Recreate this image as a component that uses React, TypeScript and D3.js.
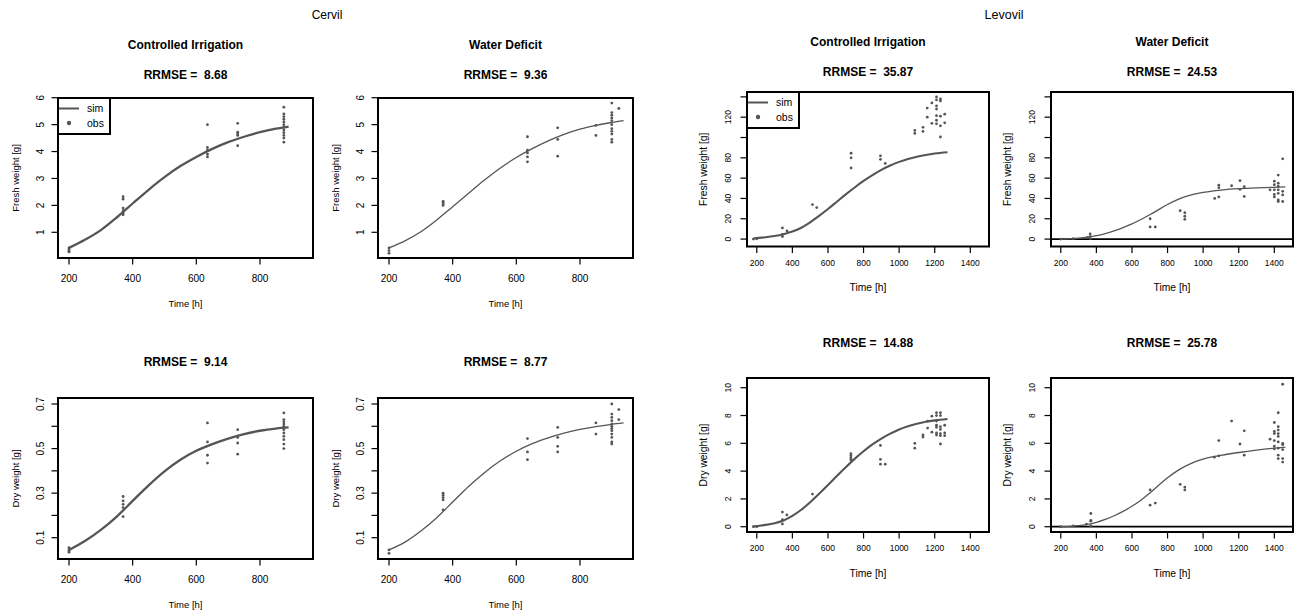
import React from 'react';
import * as d3 from 'd3';

type Pt = [number, number];

// ---- Cervil: fresh weight ----
const cervilCIFreshObs: Pt[] = [
    [200, 0.42], [200, 0.35], [200, 0.3], [200, 0.27],
    [370, 2.32], [370, 2.23], [370, 1.9], [370, 1.8], [370, 1.72], [370, 1.65],
    [635, 5.0], [635, 4.15], [635, 4.05], [635, 3.9], [635, 3.8],
    [730, 5.05], [730, 4.72], [730, 4.65], [730, 4.6], [730, 4.22],
    [875, 5.65], [875, 5.4], [875, 5.3], [875, 5.2], [875, 5.1], [875, 5.0], [875, 4.9],
    [875, 4.8], [875, 4.7], [875, 4.6], [875, 4.5], [875, 4.35],
];
const cervilCIFreshSim: Pt[] = [
    [200, 0.42], [250, 0.72], [300, 1.08], [350, 1.55], [400, 2.07], [450, 2.58], [500, 3.05],
    [550, 3.46], [600, 3.8], [650, 4.1], [700, 4.35], [750, 4.55], [800, 4.72], [850, 4.85], [890, 4.93],
];
const cervilWDFreshObs: Pt[] = [
    [200, 0.42], [200, 0.32], [200, 0.22],
    [370, 2.15], [370, 2.1], [370, 2.05], [370, 2.0],
    [635, 4.55], [635, 4.05], [635, 3.95], [635, 3.8], [635, 3.62],
    [730, 4.88], [730, 4.45], [730, 3.83],
    [850, 4.97], [850, 4.6],
    [900, 5.8], [900, 5.45], [900, 5.35], [900, 5.25], [900, 5.15], [900, 5.0], [900, 4.85],
    [900, 4.75], [900, 4.65], [900, 4.45], [900, 4.35],
    [922, 5.6],
];
const cervilWDFreshSim: Pt[] = [
    [200, 0.42], [250, 0.68], [300, 1.02], [350, 1.46], [400, 1.95], [450, 2.45], [500, 2.94],
    [550, 3.39], [600, 3.78], [650, 4.11], [700, 4.4], [750, 4.64], [800, 4.83], [850, 4.97],
    [900, 5.08], [937, 5.15],
];

// ---- Cervil: dry weight ----
const cervilCIDryObs: Pt[] = [
    [200, 0.055], [200, 0.045], [200, 0.04], [200, 0.035],
    [370, 0.285], [370, 0.265], [370, 0.25], [370, 0.235], [370, 0.195],
    [635, 0.615], [635, 0.53], [635, 0.47], [635, 0.435],
    [730, 0.585], [730, 0.55], [730, 0.525], [730, 0.475],
    [875, 0.66], [875, 0.63], [875, 0.62], [875, 0.61], [875, 0.6], [875, 0.585], [875, 0.57],
    [875, 0.555], [875, 0.54], [875, 0.52], [875, 0.5],
];
const cervilCIDrySim: Pt[] = [
    [200, 0.045], [250, 0.085], [300, 0.135], [350, 0.195], [400, 0.265], [450, 0.335], [500, 0.398],
    [550, 0.45], [600, 0.49], [650, 0.52], [700, 0.545], [750, 0.565], [800, 0.58], [850, 0.59], [890, 0.595],
];
const cervilWDDryObs: Pt[] = [
    [200, 0.045], [200, 0.03],
    [370, 0.3], [370, 0.29], [370, 0.28], [370, 0.27], [370, 0.225],
    [635, 0.545], [635, 0.485], [635, 0.45],
    [730, 0.595], [730, 0.55], [730, 0.51], [730, 0.485],
    [850, 0.615], [850, 0.565],
    [900, 0.7], [900, 0.655], [900, 0.64], [900, 0.625], [900, 0.61], [900, 0.6], [900, 0.59],
    [900, 0.58], [900, 0.565], [900, 0.55], [900, 0.53], [900, 0.52],
    [922, 0.675], [922, 0.63],
];
const cervilWDDrySim: Pt[] = [
    [200, 0.045], [250, 0.08], [300, 0.13], [350, 0.19], [400, 0.26], [450, 0.33], [500, 0.392],
    [550, 0.445], [600, 0.488], [650, 0.522], [700, 0.548], [750, 0.569], [800, 0.586], [850, 0.599],
    [900, 0.609], [937, 0.615],
];

// ---- Levovil: fresh weight ----
const levovilCIFreshObs: Pt[] = [
    [181, 0], [200, 0.3], [344, 11], [344, 4.5], [344, 2.5], [370, 8], [513, 34], [537, 31],
    [730, 84.5], [730, 80], [730, 70], [895, 82], [895, 78.5], [922, 74.5],
    [1088, 107], [1088, 104], [1134, 110], [1134, 106], [1158, 129], [1158, 120], [1184, 134], [1184, 114],
    [1210, 140], [1210, 137], [1210, 131], [1210, 128], [1210, 121.5], [1210, 117], [1210, 113.5],
    [1232, 138], [1232, 136], [1232, 121], [1232, 111.5], [1232, 100.5], [1256, 123], [1256, 114.5],
];
const levovilCIFreshSim: Pt[] = [
    [181, 0.5], [200, 1], [250, 1.8], [300, 3], [350, 4.8], [400, 7.4], [450, 11.2], [500, 16.5],
    [550, 22.8], [600, 29.6], [650, 36.8], [700, 44], [750, 50.8], [800, 57.2], [850, 63], [900, 68.2],
    [950, 72.5], [1000, 76], [1050, 78.8], [1100, 81], [1150, 82.8], [1200, 84.2], [1272, 85.5],
];
const levovilWDFreshObs: Pt[] = [
    [200, 0], [271, 0.5], [350, 1.5], [365, 5], [365, 2.5], [365, 0.5],
    [702, 20], [702, 12], [731, 12], [871, 28], [897, 26], [897, 22.5], [897, 19.5],
    [1065, 40], [1088, 53], [1088, 50.5], [1088, 41.5], [1160, 52.5], [1207, 57.5], [1207, 49],
    [1231, 51.5], [1231, 42],
    [1376, 48.5], [1400, 57], [1400, 53.5], [1400, 48.5], [1400, 44], [1400, 41.5],
    [1422, 63], [1422, 55], [1422, 52], [1422, 48.5], [1422, 45], [1422, 38.5], [1422, 37],
    [1447, 79], [1447, 47], [1447, 43.5], [1447, 37],
];
const levovilWDFreshSim: Pt[] = [
    [200, 0], [250, 0.3], [300, 0.8], [350, 1.8], [400, 3.3], [450, 5.4], [500, 8.1], [550, 11.3],
    [600, 15], [650, 19.3], [700, 24], [750, 29], [800, 34], [850, 38.3], [900, 41.8], [950, 44.3],
    [1000, 46], [1050, 47.3], [1100, 48.3], [1150, 49.1], [1200, 49.7], [1300, 50.5], [1400, 51], [1462, 51.3],
];

// ---- Levovil: dry weight ----
const levovilCIDryObs: Pt[] = [
    [181, 0], [200, 0], [344, 1.05], [344, 0.5], [344, 0.2], [369, 0.85], [513, 2.35],
    [729, 5.25], [729, 5.1], [729, 4.95], [729, 4.8], [895, 5.85], [895, 4.85], [895, 4.5], [922, 4.5],
    [1088, 6.0], [1088, 5.65], [1134, 6.6], [1134, 6.45], [1160, 7.6], [1160, 7.1], [1184, 7.95], [1184, 6.8],
    [1210, 8.2], [1210, 8.0], [1210, 7.6], [1210, 7.3], [1210, 7.15], [1210, 6.75], [1210, 6.6],
    [1232, 8.2], [1232, 8.0], [1232, 7.2], [1232, 7.0], [1232, 6.7], [1232, 6.55], [1232, 5.95],
    [1256, 7.3], [1256, 6.75], [1256, 6.55],
];
const levovilCIDrySim: Pt[] = [
    [181, 0.02], [200, 0.05], [250, 0.13], [300, 0.25], [350, 0.45], [400, 0.78], [450, 1.22], [500, 1.76],
    [550, 2.37], [600, 3.0], [650, 3.65], [700, 4.28], [750, 4.88], [800, 5.43], [850, 5.92], [900, 6.34],
    [950, 6.7], [1000, 7.0], [1050, 7.23], [1100, 7.41], [1150, 7.55], [1200, 7.65], [1272, 7.75],
];
const levovilWDDryObs: Pt[] = [
    [200, 0], [271, 0.05], [344, 0.19], [369, 0.95], [369, 0.45], [369, 0.4], [369, 0.05],
    [702, 2.65], [702, 1.55], [731, 1.7], [871, 3.05], [897, 2.85], [897, 2.65],
    [1063, 5.0], [1088, 6.2], [1088, 5.1], [1160, 7.6], [1207, 5.95], [1231, 6.9], [1231, 5.15],
    [1376, 6.3], [1400, 7.5], [1400, 6.85], [1400, 6.7], [1400, 6.2], [1400, 5.8], [1400, 5.6],
    [1422, 8.2], [1422, 7.2], [1422, 6.95], [1422, 6.7], [1422, 6.5], [1422, 6.1], [1422, 5.65],
    [1422, 5.15], [1422, 4.9], [1447, 10.25], [1447, 6.0], [1447, 5.9], [1447, 5.55], [1447, 4.9], [1447, 4.65],
];
const levovilWDDrySim: Pt[] = [
    [200, 0], [250, 0.03], [300, 0.08], [350, 0.17], [400, 0.32], [450, 0.53], [500, 0.79], [550, 1.1],
    [600, 1.47], [650, 1.9], [700, 2.42], [750, 2.98], [800, 3.52], [850, 3.98], [900, 4.36], [950, 4.65],
    [1000, 4.86], [1050, 5.02], [1100, 5.14], [1200, 5.34], [1300, 5.51], [1400, 5.65], [1462, 5.72],
];

// ---- ticks ----
const cervilXTicks = [200, 400, 600, 800];
const levovilXTicks = [200, 400, 600, 800, 1000, 1200, 1400];
const cervilFreshYTicks = [1, 2, 3, 4, 5, 6];
const cervilFreshYLabels = [1, 2, 3, 4, 5, 6];
const cervilDryYTicks = [0.1, 0.2, 0.3, 0.4, 0.5, 0.6, 0.7];
const cervilDryYLabels = [0.1, 0.3, 0.5, 0.7];
const levovilFreshYTicks = [0, 20, 40, 60, 80, 100, 120, 140];
const levovilFreshYLabels = [0, 20, 40, 60, 80, 120];
const levovilDryYTicks = [0, 2, 4, 6, 8, 10];
const levovilDryYLabels = [0, 2, 4, 6, 8, 10];

const FONT = '"Liberation Sans", Arial, Helvetica, sans-serif';
const GREY = '#555555';

interface PanelSpec {
    left: number; top: number; width: number; height: number;
    xDomain: [number, number]; yDomain: [number, number];
    xTicks: number[]; yTicks: number[]; yLabels: number[];
    obs: Pt[]; sim: Pt[];
    title?: string; rrmse: string;
    titleY: number; rrmseY: number;
    yLabel: string;
    tickFont: number; labFont: number;
    tickGap: number; xLabGap: number; yTickGap: number; yLabGap: number;
    legend?: boolean; hline?: boolean; simWidth: number;
}

const Panel: React.FC<{ p: PanelSpec }> = ({ p }) => {
    const x = d3.scaleLinear().domain(p.xDomain).range([p.left, p.left + p.width]);
    const y = d3.scaleLinear().domain(p.yDomain).range([p.top + p.height, p.top]);
    const line = d3.line<Pt>().x(d => x(d[0])).y(d => y(d[1])).curve(d3.curveMonotoneX);
    const bottom = p.top + p.height;
    const cx = p.left + p.width / 2;
    const tl = 6.5;
    return (
        <g>
            {p.title && (
                <text x={cx} y={p.titleY} textAnchor="middle" fontWeight="bold" fontSize={12}>{p.title}</text>
            )}
            <text x={cx} y={p.rrmseY} textAnchor="middle" fontWeight="bold" fontSize={12} style={{ whiteSpace: 'pre' }}>
                {`RRMSE =  ${p.rrmse}`}
            </text>

            {p.hline && (
                <line x1={p.left} x2={p.left + p.width} y1={y(0)} y2={y(0)} stroke="#000" strokeWidth={1.8} />
            )}

            <path d={line(p.sim) || ''} fill="none" stroke={GREY} strokeWidth={p.simWidth} />
            {p.obs.map((d, i) => (
                <circle key={i} cx={x(d[0])} cy={y(d[1])} r={1.4} fill={GREY} />
            ))}

            <rect x={p.left} y={p.top} width={p.width} height={p.height} fill="none" stroke="#000" strokeWidth={2} />

            {/* x axis */}
            {p.xTicks.map(t => (
                <g key={t}>
                    <line x1={x(t)} x2={x(t)} y1={bottom} y2={bottom + tl} stroke="#000" strokeWidth={1.2} />
                    <text x={x(t)} y={bottom + p.tickGap} textAnchor="middle" fontSize={p.tickFont}>{t}</text>
                </g>
            ))}
            <text x={cx} y={bottom + p.xLabGap} textAnchor="middle" fontSize={p.labFont}>Time [h]</text>

            {/* y axis */}
            {p.yTicks.map(t => (
                <line key={t} x1={p.left - tl} x2={p.left} y1={y(t)} y2={y(t)} stroke="#000" strokeWidth={1.2} />
            ))}
            {p.yLabels.map(t => (
                <text key={t} transform={`translate(${p.left - p.yTickGap},${y(t)}) rotate(-90)`}
                    textAnchor="middle" fontSize={p.tickFont}>{String(t)}</text>
            ))}
            <text transform={`translate(${p.left - p.yLabGap},${p.top + p.height / 2}) rotate(-90)`}
                textAnchor="middle" fontSize={p.labFont}>{p.yLabel}</text>

            {p.legend && (
                <g>
                    <rect x={p.left} y={p.top} width={52} height={36} fill="#fff" stroke="#000" strokeWidth={2} />
                    <line x1={p.left + 1} x2={p.left + 21} y1={p.top + 10.5} y2={p.top + 10.5} stroke={GREY} strokeWidth={2} />
                    <circle cx={p.left + 11} cy={p.top + 25} r={2.2} fill={GREY} />
                    <text x={p.left + 29} y={p.top + 14} fontSize={10.5}>sim</text>
                    <text x={p.left + 29} y={p.top + 28.5} fontSize={10.5}>obs</text>
                </g>
            )}
        </g>
    );
};

const cervilX: [number, number] = [165.4, 966.6];
const levovilX: [number, number] = [145, 1505];

const cervilCommon = {
    width: 255, xDomain: cervilX, xTicks: cervilXTicks,
    tickFont: 10, labFont: 9.5, tickGap: 24, xLabGap: 48.5, yTickGap: 14.5, yLabGap: 39.5,
};
const levovilCommon = {
    width: 242, xDomain: levovilX, xTicks: levovilXTicks,
    tickFont: 8.5, labFont: 10.3, tickGap: 19, xLabGap: 44.5, yTickGap: 16, yLabGap: 40,
};

const panels: PanelSpec[] = [
    {
        ...cervilCommon, left: 58, top: 98, height: 160, yDomain: [0.045, 5.99],
        yTicks: cervilFreshYTicks, yLabels: cervilFreshYLabels, obs: cervilCIFreshObs, sim: cervilCIFreshSim,
        title: 'Controlled Irrigation', rrmse: '8.68', titleY: 49, rrmseY: 78.5, yLabel: 'Fresh weight [g]',
        legend: true, simWidth: 2.3,
    },
    {
        ...cervilCommon, left: 378, top: 98, height: 160, yDomain: [0.045, 5.99],
        yTicks: cervilFreshYTicks, yLabels: cervilFreshYLabels, obs: cervilWDFreshObs, sim: cervilWDFreshSim,
        title: 'Water Deficit', rrmse: '9.36', titleY: 49, rrmseY: 78.5, yLabel: 'Fresh weight [g]',
        simWidth: 1.3,
    },
    {
        ...cervilCommon, left: 58, top: 398, height: 161, yDomain: [0.0044, 0.727],
        yTicks: cervilDryYTicks, yLabels: cervilDryYLabels, obs: cervilCIDryObs, sim: cervilCIDrySim,
        rrmse: '9.14', titleY: 0, rrmseY: 365.5, yLabel: 'Dry weight [g]', simWidth: 2.3,
    },
    {
        ...cervilCommon, left: 378, top: 398, height: 161, yDomain: [0.0044, 0.727],
        yTicks: cervilDryYTicks, yLabels: cervilDryYLabels, obs: cervilWDDryObs, sim: cervilWDDrySim,
        rrmse: '8.77', titleY: 0, rrmseY: 365.5, yLabel: 'Dry weight [g]', simWidth: 1.3,
    },
    {
        ...levovilCommon, left: 747, top: 92, height: 154.5, yDomain: [-7.3, 144.8],
        yTicks: levovilFreshYTicks, yLabels: levovilFreshYLabels, obs: levovilCIFreshObs, sim: levovilCIFreshSim,
        title: 'Controlled Irrigation', rrmse: '35.87', titleY: 46, rrmseY: 75.7, yLabel: 'Fresh weight [g]',
        legend: true, simWidth: 2.1,
    },
    {
        ...levovilCommon, left: 1051, top: 92, height: 154.5, yDomain: [-7.3, 144.8],
        yTicks: levovilFreshYTicks, yLabels: levovilFreshYLabels, obs: levovilWDFreshObs, sim: levovilWDFreshSim,
        title: 'Water Deficit', rrmse: '24.53', titleY: 46, rrmseY: 75.7, yLabel: 'Fresh weight [g]',
        hline: true, simWidth: 1.3,
    },
    {
        ...levovilCommon, left: 747, top: 378, height: 154, yDomain: [-0.38, 10.7],
        yTicks: levovilDryYTicks, yLabels: levovilDryYLabels, obs: levovilCIDryObs, sim: levovilCIDrySim,
        rrmse: '14.88', titleY: 0, rrmseY: 347, yLabel: 'Dry weight [g]', simWidth: 2.1,
    },
    {
        ...levovilCommon, left: 1051, top: 378, height: 154, yDomain: [-0.38, 10.7],
        yTicks: levovilDryYTicks, yLabels: levovilDryYLabels, obs: levovilWDDryObs, sim: levovilWDDrySim,
        rrmse: '25.78', titleY: 0, rrmseY: 347, yLabel: 'Dry weight [g]', hline: true, simWidth: 1.3,
    },
];

export default function App() {
    return (
        <div style={{ position: 'absolute', left: 0, top: 0, background: '#fff' }}>
            <svg width={1301} height={614} fontFamily={FONT} style={{ display: 'block' }}>
                <rect width={1301} height={614} fill="#fff" />
                <text x={327} y={19} textAnchor="middle" fontSize={12}>Cervil</text>
                <text x={1004} y={19} textAnchor="middle" fontSize={12.5}>Levovil</text>
                {panels.map((p, i) => <Panel key={i} p={p} />)}
            </svg>
        </div>
    );
}
